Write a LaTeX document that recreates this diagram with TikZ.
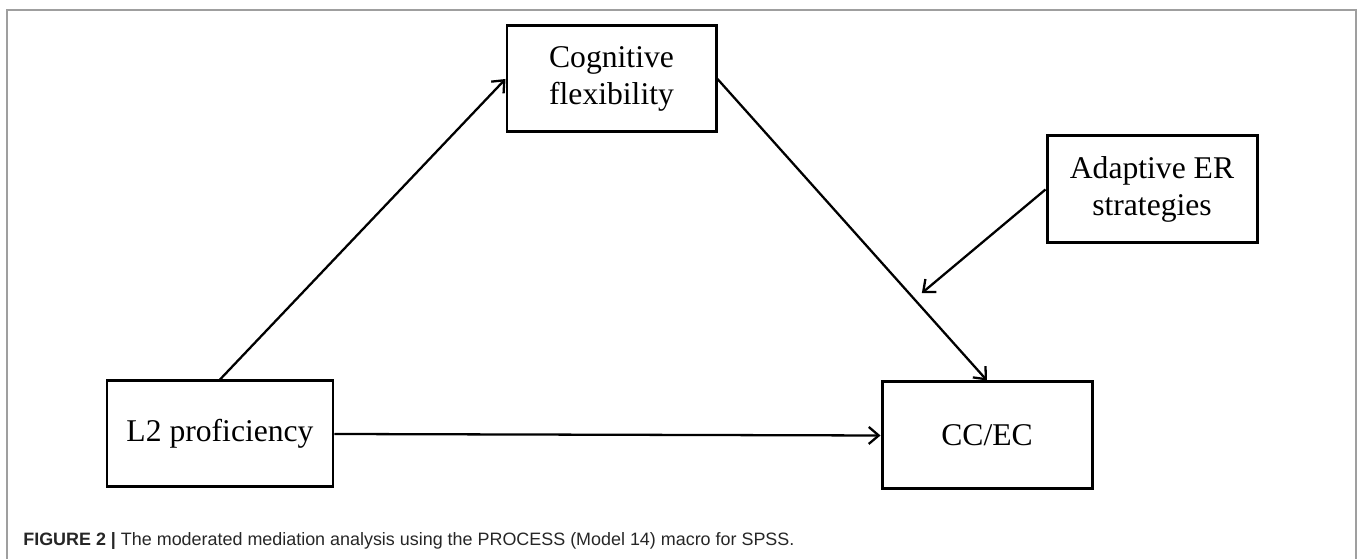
\documentclass[tikz,border=0pt]{standalone}
\usepackage{fontspec}
\setmainfont{Liberation Serif}
\newfontfamily\capfont{Liberation Sans}
\usetikzlibrary{positioning,calc,arrows.meta}

\begin{document}
\begin{tikzpicture}[>={Straight Barb[length=2mm,width=3.4mm]},
	box/.style={draw=black, line width=1.7pt, align=center, font=\fontsize{18}{21}\selectfont, inner sep=0pt},
	path/.style={->, line width=1.3pt, black}]
	% page size and frame
	\useasboundingbox (0,0) rectangle (27.16,11.18);
	\draw[gray!75, line width=0.03cm] (0.14,0) -- (0.14,10.98) -- (27.12,10.98) -- (27.12,0);
	
	% variables
	\node[box, minimum width=4.52cm, minimum height=2.12cm] (l2) at (4.40,2.50) {L2 proficiency};
	\node[box, minimum width=4.18cm, minimum height=2.12cm] (cog) at (12.23,9.60) {Cognitive\\flexibility};
	\node[box, minimum width=4.20cm, minimum height=2.14cm] (cc) at (19.74,2.47) {CC/EC};
	\node[box, minimum width=4.20cm, minimum height=2.14cm] (ader) at (23.04,7.39) {Adaptive ER\\strategies};
	
	% moderation point on the b path
	\coordinate (mod) at ($(cog.east)!0.71!(cc.north)+(0.26,0)$);
	
	% paths
	\draw[path] (l2.north) -- (cog.west);
	\draw[path] (cog.east) -- (cc.north);
	\draw[path] (l2.east) -- (cc.west);
	\draw[path] (ader.west) -- (mod);
	
	% caption
	\node[anchor=base west, inner sep=0pt, font=\capfont\fontsize{10.2}{12}\selectfont, text=black!85] (caption) at (0.46,0.26)
	{\textbf{FIGURE 2 |} The moderated mediation analysis using the PROCESS (Model 14) macro for SPSS.};
\end{tikzpicture}
\end{document}
